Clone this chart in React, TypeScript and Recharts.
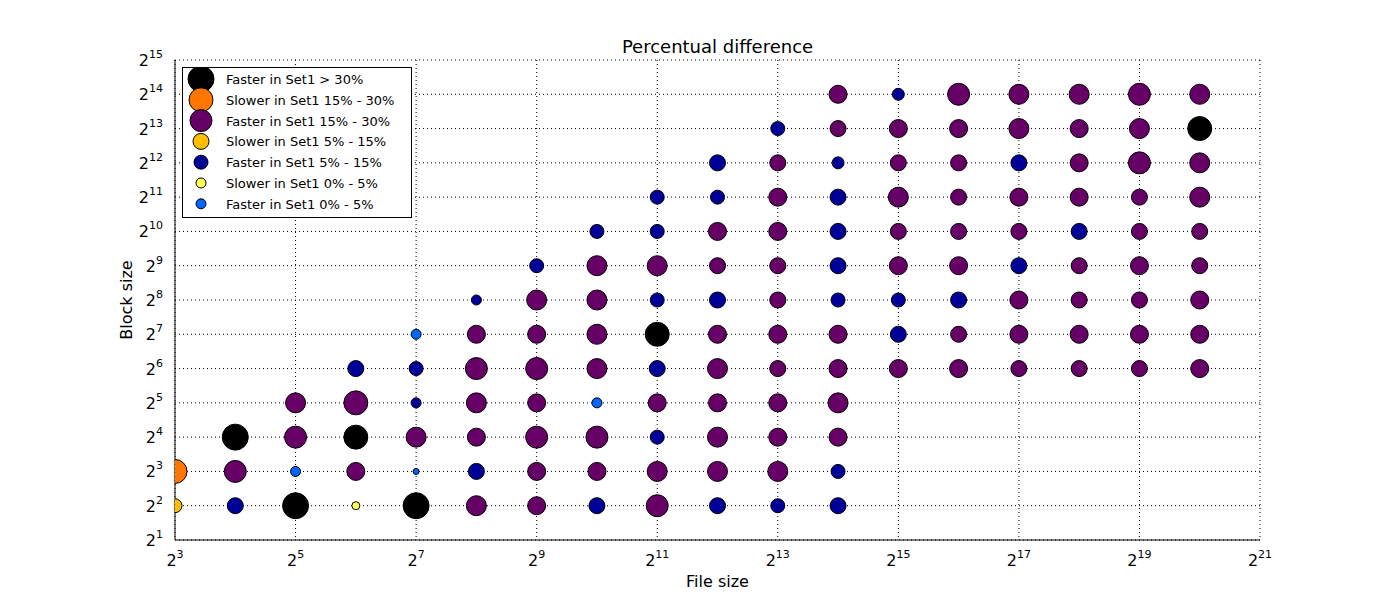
import React from "react"
import { ScatterChart, Scatter, XAxis, YAxis, CartesianGrid } from "recharts"

// categories: label, colour
const categories = [
  { key: "f30", label: "Faster in Set1  > 30%", color: "#000000", legendR: 13 },
  { key: "s15", label: "Slower in Set1 15% - 30%", color: "#ff7700", legendR: 12 },
  { key: "f15", label: "Faster in Set1 15% - 30%", color: "#660066", legendR: 11 },
  { key: "s5", label: "Slower in Set1 5% - 15%", color: "#ffbf00", legendR: 8 },
  { key: "f5", label: "Faster in Set1 5% - 15%", color: "#000099", legendR: 7 },
  { key: "s0", label: "Slower in Set1 0% - 5%", color: "#ffff55", legendR: 5 },
  { key: "f0", label: "Faster in Set1 0% - 5%", color: "#0066ff", legendR: 5 },
]

// [file size exponent, block size exponent, category, radius]
const points: [number, number, string, number][] = [
  [3, 3, "s15", 12], [3, 2, "s5", 7],
  [4, 4, "f30", 13], [4, 3, "f15", 11], [4, 2, "f5", 8],
  [5, 5, "f15", 10], [5, 4, "f15", 11], [5, 3, "f0", 5], [5, 2, "f30", 13],
  [6, 6, "f5", 8], [6, 5, "f15", 12], [6, 4, "f30", 12], [6, 3, "f15", 9], [6, 2, "s0", 4],
  [7, 7, "f0", 5], [7, 6, "f5", 7], [7, 5, "f5", 5], [7, 4, "f15", 10], [7, 3, "f0", 3], [7, 2, "f30", 13],
  [8, 8, "f5", 5], [8, 7, "f15", 9], [8, 6, "f15", 11], [8, 5, "f15", 10], [8, 4, "f15", 9], [8, 3, "f5", 8], [8, 2, "f15", 10],
  [9, 9, "f5", 7], [9, 8, "f15", 10], [9, 7, "f15", 9], [9, 6, "f15", 11], [9, 5, "f15", 9], [9, 4, "f15", 11], [9, 3, "f15", 9], [9, 2, "f15", 9],
  [10, 10, "f5", 7], [10, 9, "f15", 10], [10, 8, "f15", 10], [10, 7, "f15", 10], [10, 6, "f15", 10], [10, 5, "f0", 5], [10, 4, "f15", 11], [10, 3, "f15", 9], [10, 2, "f5", 8],
  [11, 11, "f5", 7], [11, 10, "f5", 7], [11, 9, "f15", 10], [11, 8, "f5", 7], [11, 7, "f30", 12], [11, 6, "f5", 8], [11, 5, "f15", 9], [11, 4, "f5", 7], [11, 3, "f15", 10], [11, 2, "f15", 11],
  [12, 12, "f5", 8], [12, 11, "f5", 7], [12, 10, "f15", 9], [12, 9, "f15", 8], [12, 8, "f5", 8], [12, 7, "f15", 9], [12, 6, "f15", 10], [12, 5, "f15", 9], [12, 4, "f15", 10], [12, 3, "f15", 10], [12, 2, "f5", 8],
  [13, 13, "f5", 7], [13, 12, "f15", 8], [13, 11, "f15", 9], [13, 10, "f15", 9], [13, 9, "f15", 8], [13, 8, "f15", 8], [13, 7, "f15", 9], [13, 6, "f15", 8], [13, 5, "f15", 9], [13, 4, "f15", 9], [13, 3, "f15", 10], [13, 2, "f5", 7],
  [14, 14, "f15", 9], [14, 13, "f15", 8], [14, 12, "f5", 6], [14, 11, "f5", 8], [14, 10, "f5", 8], [14, 9, "f5", 8], [14, 8, "f5", 7], [14, 7, "f15", 9], [14, 6, "f15", 9], [14, 5, "f15", 10], [14, 4, "f15", 9], [14, 3, "f5", 7], [14, 2, "f5", 8],
  [15, 14, "f5", 6], [15, 13, "f15", 9], [15, 12, "f15", 8], [15, 11, "f15", 10], [15, 10, "f15", 8], [15, 9, "f15", 9], [15, 8, "f5", 7], [15, 7, "f5", 8], [15, 6, "f15", 9],
  [16, 14, "f15", 11], [16, 13, "f15", 9], [16, 12, "f15", 8], [16, 11, "f15", 8], [16, 10, "f15", 8], [16, 9, "f15", 9], [16, 8, "f5", 8], [16, 7, "f15", 8], [16, 6, "f15", 9],
  [17, 14, "f15", 10], [17, 13, "f15", 10], [17, 12, "f5", 8], [17, 11, "f15", 9], [17, 10, "f15", 8], [17, 9, "f5", 8], [17, 8, "f15", 9], [17, 7, "f15", 9], [17, 6, "f15", 8],
  [18, 14, "f15", 10], [18, 13, "f15", 9], [18, 12, "f15", 9], [18, 11, "f15", 9], [18, 10, "f5", 8], [18, 9, "f15", 8], [18, 8, "f15", 8], [18, 7, "f15", 9], [18, 6, "f15", 8],
  [19, 14, "f15", 11], [19, 13, "f15", 10], [19, 12, "f15", 11], [19, 11, "f15", 8], [19, 10, "f15", 8], [19, 9, "f15", 9], [19, 8, "f15", 8], [19, 7, "f15", 9], [19, 6, "f15", 8],
  [20, 14, "f15", 10], [20, 13, "f30", 12], [20, 12, "f15", 10], [20, 11, "f15", 10], [20, 10, "f15", 8], [20, 9, "f15", 8], [20, 8, "f15", 9], [20, 7, "f15", 9], [20, 6, "f15", 9],
]

const xTicks = [3, 5, 7, 9, 11, 13, 15, 17, 19, 21]
const yTicks = [1, 2, 3, 4, 5, 6, 7, 8, 9, 10, 11, 12, 13, 14, 15]

const font = "DejaVu Sans, sans-serif"

const PowTick = ({ x, y, payload, axis }: any) => {
  const isX = axis === "x"
  return (
    <text x={isX ? x : x - 4} y={isX ? y + 18 : y + 6} textAnchor={isX ? "middle" : "end"} fontSize={16} fontFamily={font} fill="#000">
      2<tspan fontSize={11} dy={-8}>{payload.value}</tspan>
    </text>
  )
}

const Bubble = (color: string) => (props: any) => {
  const { cx, cy, payload } = props
  return <circle cx={cx} cy={cy} r={payload.r} fill={color} stroke="#000" strokeWidth={1} />
}

export default function App() {
  return (
    <div style={{ position: "relative", width: 1400, height: 600, background: "#fff", fontFamily: font }}>
      <style>{`body{margin:0}`}</style>
      <ScatterChart width={1400} height={600} margin={{ top: 60, right: 140, bottom: 30, left: 115 }}>
        <CartesianGrid strokeDasharray="1 3" stroke="#000" horizontalValues={yTicks} verticalValues={xTicks} />
        <XAxis type="number" dataKey="x" domain={[3, 21]} ticks={xTicks} height={30} tick={<PowTick axis="x" />} tickLine={false} stroke="#000" allowDataOverflow />
        <XAxis type="number" xAxisId="top" orientation="top" domain={[3, 21]} height={0} tick={false} tickLine={false} stroke="#000" />
        <YAxis type="number" dataKey="y" domain={[1, 15]} ticks={yTicks} width={60} tick={<PowTick axis="y" />} tickLine={false} stroke="#000" allowDataOverflow />
        <YAxis type="number" yAxisId="right" orientation="right" domain={[1, 15]} width={0} tick={false} tickLine={false} stroke="#000" />
        {categories.map((c) => (
          <Scatter
            key={c.key}
            data={points.filter((p) => p[2] === c.key).map((p) => ({ x: p[0], y: p[1], r: p[3] }))}
            shape={Bubble(c.color)}
            isAnimationActive={false}
          />
        ))}
      </ScatterChart>
      <div style={{ position: "absolute", left: 0, width: 1435, top: 36, textAlign: "center", fontSize: 18 }}>Percentual difference</div>
      <div style={{ position: "absolute", left: 0, width: 1435, top: 572, textAlign: "center", fontSize: 16 }}>File size</div>
      <div style={{ position: "absolute", left: 126, top: 300, fontSize: 16, transform: "translate(-50%,-50%) rotate(-90deg)", whiteSpace: "nowrap" }}>Block size</div>
      <svg style={{ position: "absolute", left: 182, top: 67 }} width={230} height={151}>
        <rect x={0.5} y={0.5} width={229} height={150} fill="#fff" stroke="#000" />
        {categories.map((c, i) => (
          <g key={c.key}>
            <circle cx={19} cy={12 + i * 20.8} r={c.legendR} fill={c.color} stroke="#000" />
            <text x={44} y={17 + i * 20.8} fontSize={13} fontFamily={font}>{c.label}</text>
          </g>
        ))}
      </svg>
    </div>
  )
}
